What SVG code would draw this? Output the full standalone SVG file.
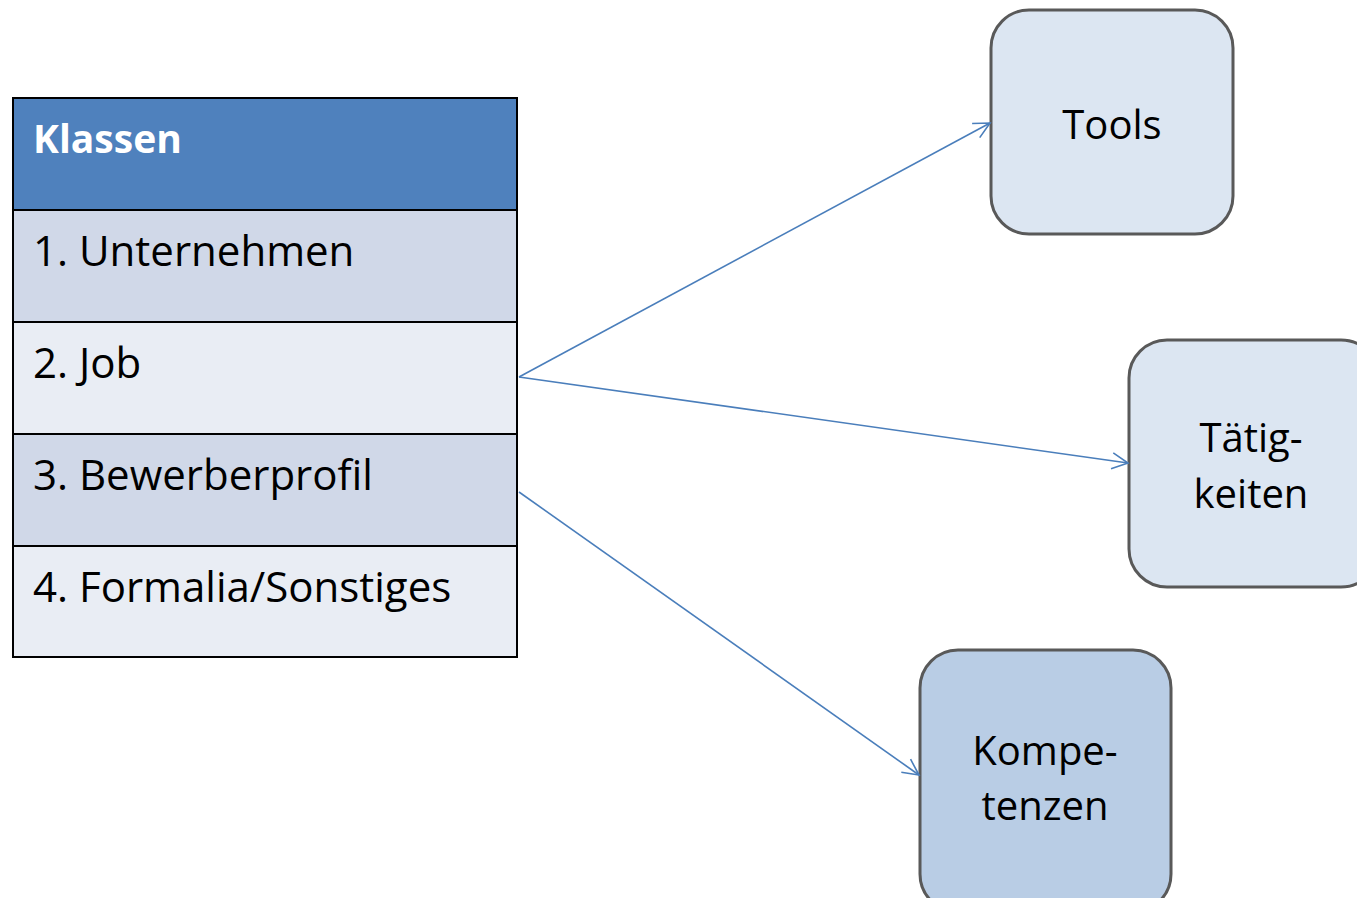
<svg xmlns="http://www.w3.org/2000/svg" width="1357" height="898" viewBox="0 0 1357 898">
<defs>
<style>
.t{font-family:"Open Sans","Liberation Sans",sans-serif;font-size:42px;fill:#000}
.n{font-family:"Open Sans","Liberation Sans",sans-serif;font-size:40px;fill:#000;text-anchor:middle}
.h{font-family:"Open Sans","Liberation Sans",sans-serif;font-size:39px;font-weight:bold;fill:#fff}
.row{stroke:#000;stroke-width:2}
.box{stroke:#595959;stroke-width:3}
.conn line{stroke:#4A7EBB;stroke-width:1.6;fill:none}
</style>
<marker id="arr" viewBox="0 0 20 20" refX="18" refY="10" markerWidth="20" markerHeight="20" markerUnits="userSpaceOnUse" orient="auto">
<path d="M2,2 L18,10 L2,18" fill="none" stroke="#4A7EBB" stroke-width="1.6"/>
</marker>
</defs>
<rect width="1357" height="898" fill="#fff"/>
<g id="table">
<rect class="row" x="13" y="98" width="504" height="112" fill="#4F81BD"/>
<rect class="row" x="13" y="210" width="504" height="112" fill="#D0D8E8"/>
<rect class="row" x="13" y="322" width="504" height="112" fill="#E9EDF4"/>
<rect class="row" x="13" y="434" width="504" height="112" fill="#D0D8E8"/>
<rect class="row" x="13" y="546" width="504" height="111" fill="#E9EDF4"/>
<text class="h" x="33" y="153">Klassen</text>
<text class="t" x="33" y="266">1. Unternehmen</text>
<text class="t" x="33" y="378">2. Job</text>
<text class="t" x="33" y="490">3. Bewerberprofil</text>
<text class="t" x="33" y="602">4. Formalia/Sonstiges</text>
</g>
<g id="tools">
<rect class="box" x="991" y="10" width="242" height="224" rx="38" fill="#DCE6F2"/>
<text class="n" x="1112" y="139">Tools</text>
</g>
<g id="taetigkeiten">
<rect class="box" x="1129" y="340" width="250" height="247" rx="38" fill="#DCE6F2"/>
<text class="n" x="1251" y="452">Tätig-</text>
<text class="n" x="1251" y="508">keiten</text>
</g>
<g id="kompetenzen">
<rect class="box" x="920" y="650" width="251" height="262" rx="38" fill="#B9CDE5"/>
<text class="n" x="1045" y="765">Kompe-</text>
<text class="n" x="1045" y="820">tenzen</text>
</g>
<g id="connectors" class="conn">
<line x1="519" y1="377" x2="990" y2="123" marker-end="url(#arr)"/>
<line x1="519" y1="377" x2="1128" y2="463" marker-end="url(#arr)"/>
<line x1="519" y1="492" x2="919" y2="775" marker-end="url(#arr)"/>
</g>
</svg>
